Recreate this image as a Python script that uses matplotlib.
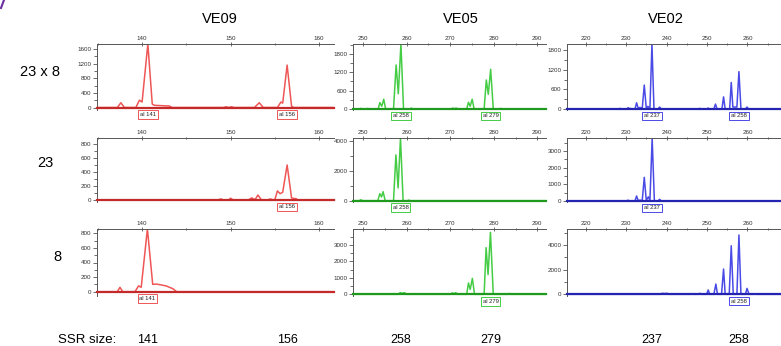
# electropherogram panels: VE09 / VE05 / VE02 markers for 23 x 8, 23 and 8
import matplotlib
matplotlib.use('Agg')
import matplotlib.pyplot as plt
from matplotlib.ticker import MultipleLocator
from matplotlib.transforms import blended_transform_factory
from matplotlib.lines import Line2D

plt.rcParams['font.family'] = ['Liberation Sans', 'DejaVu Sans']

## data (size in bp, height in RFU)
genes = ['VE09', 'VE05', 'VE02']
samples = ['23 x 8', '23', '8']

ve09_23x8_x = [134.9, 137.2, 137.6, 138.0, 139.3, 139.7, 140.0, 140.65, 141.15, 141.4, 142.3, 143.1, 143.4,
               149.2, 149.5, 149.8, 150.1, 150.4, 152.7, 153.25, 153.7, 155.3, 155.7, 155.9, 156.4, 156.9,
               157.1, 161.7]
ve09_23x8_y = [0, 0, 130, 0, 0, 200, 150, 1740, 90, 60, 50, 40, 0,
               0, 20, 0, 20, 0, 0, 130, 0, 0, 150, 120, 1160, 40,
               0, 0]
ve09_23_x = [134.9, 148.6, 148.9, 149.2, 149.8, 150.0, 150.3, 152.0, 152.4, 152.7, 152.8, 153.1, 153.5,
             154.2, 154.5, 154.8, 155.0, 155.3, 155.6, 155.9, 156.4, 156.9, 157.2, 157.4, 157.6, 161.7]
ve09_23_y = [0, 0, 15, 0, 0, 25, 0, 0, 30, 10, 10, 70, 0,
             0, 15, 0, 0, 130, 90, 110, 500, 30, 20, 20, 0, 0]
ve09_8_x = [134.9, 137.2, 137.5, 137.8, 139.2, 139.6, 139.9, 140.6, 141.2, 141.6, 142.7, 143.5, 143.9, 161.7]
ve09_8_y = [0, 0, 60, 0, 0, 80, 60, 860, 100, 105, 80, 40, 0, 0]

ve05_23x8_x = [247.7, 249.2, 249.5, 249.8, 250.8, 251.1, 251.4, 253.5, 253.85, 254.3, 254.75, 255.2,
               257.0, 257.6, 258.1, 258.7, 259.3, 260.8, 261.1, 261.4, 270.2, 270.6, 271.0, 271.4, 271.8,
               273.8, 274.2, 274.6, 275.05, 275.5, 277.8, 278.3, 278.75, 279.3, 279.9, 281.3, 281.6, 281.9, 292]
ve05_23x8_y = [0, 0, 20, 0, 0, 20, 0, 0, 210, 90, 320, 0,
               0, 1440, 500, 2130, 0, 0, 30, 0, 0, 30, 10, 30, 0,
               0, 220, 90, 320, 0, 0, 950, 480, 1300, 0, 0, 20, 0, 0]
ve05_23_x = [247.7, 249.1, 249.5, 249.9, 253.4, 253.85, 254.25, 254.6, 255.1, 257.0, 257.55, 258.05,
             258.6, 259.2, 260.2, 260.5, 260.8, 292]
ve05_23_y = [0, 0, 60, 0, 0, 470, 250, 600, 0, 0, 3050, 850, 4180, 0, 0, 40, 0, 0]
ve05_8_x = [247.7, 258.1, 258.5, 259.0, 259.5, 260.0, 261.8, 262.1, 262.4, 270.0, 270.5, 270.9, 271.3,
            271.7, 273.8, 274.2, 274.6, 275.1, 275.6, 277.8, 278.25, 278.7, 279.25, 279.9, 283.3, 283.6,
            283.9, 292]
ve05_8_y = [0, 0, 100, 60, 100, 0, 0, 40, 0, 0, 90, 40, 100,
            0, 0, 690, 300, 970, 0, 0, 2840, 1200, 3770, 0, 0, 50,
            0, 0]

ve02_23x8_x = [215.4, 228.2, 228.5, 228.8, 230.2, 230.5, 230.8, 231.1, 231.4, 232.2, 232.6, 233.0, 233.4,
               234.0, 234.5, 235.0, 235.4, 235.9, 236.4, 236.9, 237.9, 238.3, 238.7, 247.9, 248.2, 248.5,
               250.0, 250.3, 250.6, 251.7, 252.1, 252.5, 253.7, 254.1, 254.5, 255.6, 256.0, 256.4, 257.4,
               257.9, 258.4, 259.5, 259.9, 260.3, 268.3]
ve02_23x8_y = [0, 0, 20, 0, 0, 40, 10, 20, 0, 0, 190, 20, 50,
               20, 730, 20, 80, 20, 1980, 0, 0, 60, 0, 0, 20, 0,
               0, 30, 0, 0, 150, 0, 0, 370, 0, 0, 810, 60, 60,
               1140, 0, 0, 60, 0, 0]
ve02_23_x = [215.4, 230.1, 230.5, 230.9, 232.2, 232.6, 233.0, 233.4, 234.0, 234.5, 235.0, 235.5, 235.9,
             236.45, 237.0, 237.9, 238.3, 238.7, 268.3]
ve02_23_y = [0, 0, 50, 0, 0, 300, 20, 50, 30, 1420, 30, 250, 30, 3760, 0, 0, 100, 0, 0]
ve02_8_x = [215.4, 238.6, 238.9, 239.5, 240.2, 240.5, 246.0, 246.2, 246.5, 247.9, 248.2, 248.5, 249.9,
            250.3, 250.7, 251.7, 252.2, 252.6, 253.6, 254.1, 254.5, 255.5, 256.0, 256.5, 257.4, 257.9,
            258.4, 259.5, 259.9, 260.4, 261.5, 261.8, 262.1, 268.3]
ve02_8_y = [0, 0, 80, 60, 80, 0, 0, 50, 0, 0, 80, 0, 0,
            350, 0, 0, 830, 0, 0, 2050, 0, 0, 3940, 0, 0, 4810,
            0, 0, 480, 0, 0, 50, 0, 0]

# allele calls (bin position, label)
ve09_calls = [[(140.65, 'al 141'), (156.4, 'al 156')], [(156.4, 'al 156')], [(140.6, 'al 141')]]
ve05_calls = [[(258.7, 'al 258'), (279.3, 'al 279')], [(258.6, 'al 258')], [(279.25, 'al 279')]]
ve02_calls = [[(236.4, 'al 237'), (257.9, 'al 258')], [(236.45, 'al 237')], [(257.9, 'al 258')]]

# SSR sizes written under the figure
ve09_ssr = [141, 156]
ve09_ssr_pos = [140.65, 156.4]
ve05_ssr = [258, 279]
ve05_ssr_pos = [258.7, 279.3]
ve02_ssr = [237, 258]
ve02_ssr_pos = [236.4, 257.9]

## layout (pixels)
W, H = 781, 346
fig = plt.figure(figsize=(W / 100, H / 100), dpi=100)

col_px = [(97, 334), (353, 546), (567, 781)]
row_px = [(44, 110), (138, 202), (229, 296)]
xlims = [(134.9, 161.7), (247.7, 292.0), (215.4, 268.3)]
ylims = [[(-68, 1737), (-29, 886), (-59, 859)],
         [(-33, 2127), (-87, 4180), (-103, 3974)],
         [(-30, 1983), (-60, 3780), (-138, 5298)]]
ymajor = [[400, 200, 200], [600, 2000, 1000], [600, 1000, 2000]]
colors = ['#ef5656', '#45cc45', '#4a4ae6']
base_colors = ['#c42a2a', '#1f9a1f', '#2424b0']

traces = [[(ve09_23x8_x, ve09_23x8_y), (ve09_23_x, ve09_23_y), (ve09_8_x, ve09_8_y)],
          [(ve05_23x8_x, ve05_23x8_y), (ve05_23_x, ve05_23_y), (ve05_8_x, ve05_8_y)],
          [(ve02_23x8_x, ve02_23x8_y), (ve02_23_x, ve02_23_y), (ve02_8_x, ve02_8_y)]]
calls = [ve09_calls, ve05_calls, ve02_calls]
ssr = [(ve09_ssr, ve09_ssr_pos), (ve05_ssr, ve05_ssr_pos), (ve02_ssr, ve02_ssr_pos)]

bottom_axes = []
for c in range(3):
    l, r = col_px[c]
    for rw in range(3):
        t, b = row_px[rw]
        ax = fig.add_axes([l / W, 1 - b / H, (r - l) / W, (b - t) / H])
        x, y = traces[c][rw]
        ax.plot(x, y, color=colors[c], lw=1.1, solid_joinstyle='round')
        ax.set_xlim(*xlims[c])
        ax.set_ylim(*ylims[c][rw])

        ax.set_facecolor('none')
        ax.spines['right'].set_visible(False)
        ax.spines['bottom'].set_position(('data', 0))
        ax.spines['bottom'].set_color(base_colors[c])
        ax.spines['bottom'].set_linewidth(1.6)
        for s in ['top', 'left']:
            ax.spines[s].set_color('#555555')
            ax.spines[s].set_linewidth(0.7)

        ax.xaxis.tick_top()
        ax.xaxis.set_major_locator(MultipleLocator(10))
        ax.xaxis.set_minor_locator(MultipleLocator(5))
        ax.yaxis.set_major_locator(MultipleLocator(ymajor[c][rw]))
        ax.yaxis.set_minor_locator(MultipleLocator(ymajor[c][rw] / 2))
        ax.tick_params(axis='x', which='both', direction='inout', top=True, bottom=False,
                       labeltop=True, labelbottom=False, labelsize=4.5, pad=1,
                       colors='#555555', labelcolor='#333333')
        ax.tick_params(axis='y', which='both', direction='out', labelsize=4.5, pad=1,
                       colors='#555555', labelcolor='#333333')
        ax.tick_params(which='major', length=3, width=0.6)
        ax.tick_params(which='minor', length=2, width=0.6)
        ax.set_yticks([v for v in ax.get_yticks() if 0 <= v <= ylims[c][rw][1]])

        for pos, txt in calls[c][rw]:
            ax.annotate(txt, xy=(pos, 0), xytext=(0, -3.2), textcoords='offset points',
                        ha='center', va='top', fontsize=4.2, color='#222222',
                        bbox=dict(boxstyle='square,pad=0.3', fc='white', ec=colors[c], lw=0.7),
                        annotation_clip=False)
        if rw == 2:
            bottom_axes.append(ax)

# column titles and row labels
title_x = [220, 461, 666]
for g, xp in zip(genes, title_x):
    fig.text(xp / W, 1 - 19 / H, g, ha='center', va='center', fontsize=10.5)
row_lab = [(40, 72), (45, 163), (57, 257)]
for s, (xp, yp) in zip(samples, row_lab):
    fig.text(xp / W, 1 - yp / H, s, ha='center', va='center', fontsize=10.5)

# SSR sizes row
fig.text(87 / W, 1 - 340 / H, 'SSR size:', ha='center', va='center', fontsize=9.5)
for ax, (vals, poss) in zip(bottom_axes, ssr):
    tr = blended_transform_factory(ax.transData, fig.transFigure)
    for v, p in zip(vals, poss):
        ax.text(p, 1 - 340 / H, str(v), transform=tr, ha='center', va='center',
                fontsize=9, clip_on=False)

# little purple stroke in the corner
fig.add_artist(Line2D([1 / W, 4 / W], [1 - 8 / H, 1.0], color='#6a2fa0', lw=1.5,
                      transform=fig.transFigure))

fig.savefig('out.png', dpi=100)
